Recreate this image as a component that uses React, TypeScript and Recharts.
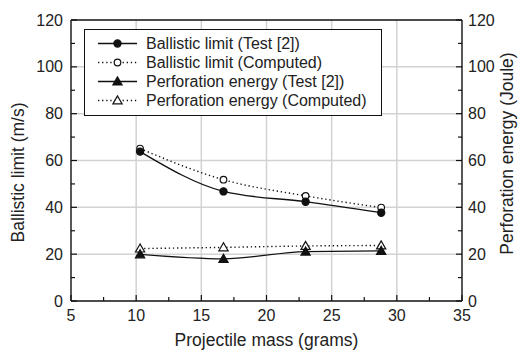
import { CartesianGrid, Line, LineChart, ReferenceLine, XAxis, YAxis } from "recharts";

const masses = [10.3, 16.7, 23, 28.8];
const ballisticTest = [63.8, 46.8, 42.4, 37.7];
const ballisticComputed = [65.1, 51.8, 44.9, 39.9];
const energyTest = [19.9, 18, 21.1, 21.4];
const energyComputed = [22.4, 22.9, 23.5, 23.7];

const xTicks = [5, 7.5, 10, 12.5, 15, 17.5, 20, 22.5, 25, 27.5, 30, 32.5, 35];
const yTicks = [0, 10, 20, 30, 40, 50, 60, 70, 80, 90, 100, 110, 120];
const xGrid = [10, 15, 20, 25, 30];
const yGrid = [20, 40, 60, 80, 100];

const legendItems = [
  { label: "Ballistic limit (Test [2])", shape: "circle", filled: true, dotted: false },
  { label: "Ballistic limit (Computed)", shape: "circle", filled: false, dotted: true },
  { label: "Perforation energy (Test [2])", shape: "triangle", filled: true, dotted: false },
  { label: "Perforation energy (Computed)", shape: "triangle", filled: false, dotted: true },
];

const data = masses.map((m, i) => ({
  mass: m,
  blTest: ballisticTest[i],
  blComp: ballisticComputed[i],
  peTest: energyTest[i],
  peComp: energyComputed[i],
}));

const FONT = '"Liberation Sans", Arial, sans-serif';
const TEXT = "#222";
const DOTTED = "1.3 2.8";

function Marker({ cx, cy, shape, filled }: { cx: number; cy: number; shape: string; filled: boolean }) {
  const fill = filled ? "#111" : "#fff";
  if (shape === "circle") {
    return <circle cx={cx} cy={cy} r={filled ? 3.6 : 3.3} fill={fill} stroke="#111" strokeWidth={1.2} />;
  }
  const s = 4.6;
  const pts = `${cx},${cy - s} ${cx - s},${cy + s * 0.75} ${cx + s},${cy + s * 0.75}`;
  return <polygon points={pts} fill={fill} stroke="#111" strokeWidth={1.2} />;
}

const dotFor = (shape: string, filled: boolean) => (props: any) =>
  <Marker key={props.index} cx={props.cx} cy={props.cy} shape={shape} filled={filled} />;

const XTick = ({ x, y, payload }: any) => {
  const v = payload.value;
  const major = v % 5 === 0;
  return (
    <g>
      <line x1={x} x2={x} y1={y} y2={y - (major ? 6 : 4)} stroke="#111" strokeWidth={1.2} />
      {major && (
        <text x={x} y={y + 20} textAnchor="middle" fontSize={16} fill={TEXT} fontFamily={FONT}>
          {v}
        </text>
      )}
    </g>
  );
};

const YTick = (side: "left" | "right") => ({ x, y, payload }: any) => {
  const v = payload.value;
  const major = v % 20 === 0;
  const dir = side === "left" ? 1 : -1;
  return (
    <g>
      <line x1={x} x2={x + dir * (major ? 6 : 4)} y1={y} y2={y} stroke="#111" strokeWidth={1.2} />
      {major && (
        <text
          x={side === "left" ? x - 8 : x + 6}
          y={y + 5.5}
          textAnchor={side === "left" ? "end" : "start"}
          fontSize={16}
          fill={TEXT}
          fontFamily={FONT}
        >
          {v}
        </text>
      )}
    </g>
  );
};

function LegendBox() {
  return (
    <svg width={298} height={87} style={{ position: "absolute", left: 84, top: 29 }}>
      <rect x={0.5} y={0.5} width={297} height={86} fill="#fff" stroke="#111" strokeWidth={1} />
      {legendItems.map((it, i) => {
        const cy = 14.5 + i * 19;
        return (
          <g key={it.label}>
            <line
              x1={14}
              x2={53}
              y1={cy}
              y2={cy}
              stroke="#111"
              strokeWidth={1.3}
              strokeDasharray={it.dotted ? DOTTED : undefined}
            />
            <Marker cx={33.5} cy={cy} shape={it.shape} filled={it.filled} />
            <text x={62} y={cy + 5.7} fontSize={16} fill={TEXT} fontFamily={FONT}>
              {it.label}
            </text>
          </g>
        );
      })}
    </svg>
  );
}

export default function App() {
  return (
    <div style={{ position: "absolute", left: 0, top: 0, width: 519, height: 350, background: "#fff" }}>
      <LineChart width={519} height={350} data={data} margin={{ top: 20, right: 0, left: 0, bottom: 0 }}>
        <CartesianGrid
          xAxisId="x"
          yAxisId="left"
          verticalValues={xGrid}
          horizontalValues={yGrid}
          stroke="#d2d2d2"
          strokeWidth={1.5}
        />
        <XAxis
          xAxisId="x"
          dataKey="mass"
          type="number"
          domain={[5, 35]}
          ticks={xTicks}
          interval={0}
          height={49}
          tickSize={0}
          tickMargin={0}
          tick={<XTick />}
          axisLine={{ stroke: "#111", strokeWidth: 1.4 }}
          label={{
            content: ({ viewBox }: any) => (
              <text
                x={viewBox.x + viewBox.width / 2}
                y={viewBox.y + 45}
                textAnchor="middle"
                fontSize={17.5}
                fill={TEXT}
                fontFamily={FONT}
              >
                Projectile mass (grams)
              </text>
            ),
          }}
        />
        <YAxis
          yAxisId="left"
          orientation="left"
          domain={[0, 120]}
          ticks={yTicks}
          interval={0}
          width={71}
          tickSize={0}
          tickMargin={0}
          tick={YTick("left")}
          axisLine={{ stroke: "#111", strokeWidth: 1.4 }}
          label={{
            content: ({ viewBox }: any) => {
              const cx = viewBox.x + 18;
              const cy = viewBox.y + viewBox.height / 2 + 12;
              return (
                <text
                  x={cx}
                  y={cy}
                  transform={`rotate(-90 ${cx} ${cy})`}
                  textAnchor="middle"
                  dominantBaseline="central"
                  fontSize={17.5}
                  fill={TEXT}
                  fontFamily={FONT}
                >
                  Ballistic limit (m/s)
                </text>
              );
            },
          }}
        />
        <YAxis
          yAxisId="right"
          orientation="right"
          domain={[0, 120]}
          ticks={yTicks}
          interval={0}
          width={57}
          tickSize={0}
          tickMargin={0}
          tick={YTick("right")}
          axisLine={{ stroke: "#111", strokeWidth: 1.4 }}
          label={{
            content: ({ viewBox }: any) => {
              const cx = viewBox.x + 45;
              const cy = viewBox.y + viewBox.height / 2 - 7;
              return (
                <text
                  x={cx}
                  y={cy}
                  transform={`rotate(-90 ${cx} ${cy})`}
                  textAnchor="middle"
                  dominantBaseline="central"
                  fontSize={17.5}
                  fill={TEXT}
                  fontFamily={FONT}
                >
                  Perforation energy (Joule)
                </text>
              );
            },
          }}
        />
        <ReferenceLine xAxisId="x" yAxisId="left" y={120} stroke="#111" strokeWidth={1.4} />
        <Line
          xAxisId="x"
          yAxisId="left"
          type="monotone"
          dataKey="blComp"
          stroke="#111"
          strokeWidth={1.4}
          strokeDasharray={DOTTED}
          dot={dotFor("circle", false)}
          isAnimationActive={false}
        />
        <Line
          xAxisId="x"
          yAxisId="left"
          type="monotone"
          dataKey="blTest"
          stroke="#111"
          strokeWidth={1.3}
          dot={dotFor("circle", true)}
          isAnimationActive={false}
        />
        <Line
          xAxisId="x"
          yAxisId="right"
          type="monotone"
          dataKey="peComp"
          stroke="#111"
          strokeWidth={1.4}
          strokeDasharray={DOTTED}
          dot={dotFor("triangle", false)}
          isAnimationActive={false}
        />
        <Line
          xAxisId="x"
          yAxisId="right"
          type="monotone"
          dataKey="peTest"
          stroke="#111"
          strokeWidth={1.3}
          dot={dotFor("triangle", true)}
          isAnimationActive={false}
        />
      </LineChart>
      <LegendBox />
    </div>
  );
}
